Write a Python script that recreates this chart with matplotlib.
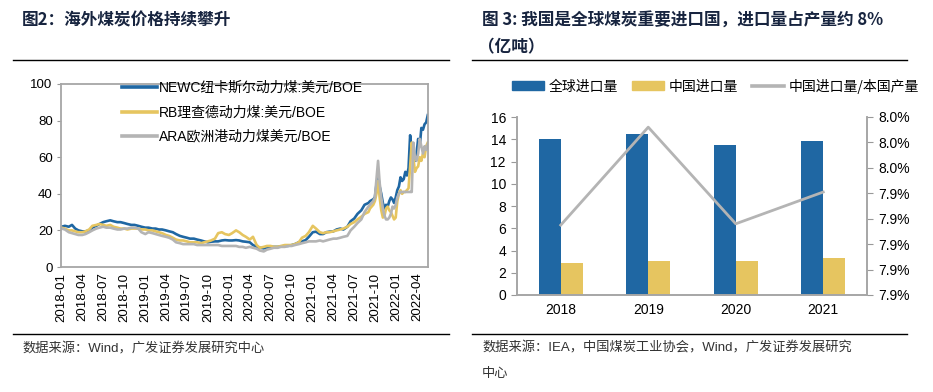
import numpy as np
import pandas as pd
import matplotlib
matplotlib.use("Agg")
import matplotlib.pyplot as plt
import matplotlib.dates as mdates
from matplotlib.lines import Line2D
from matplotlib.patches import Patch
from matplotlib.ticker import FuncFormatter, MultipleLocator

plt.rcParams['font.family'] = ['Liberation Sans', 'Noto Sans CJK SC', 'DejaVu Sans']

# ---------------- Left chart data ----------------
semi_dates = pd.date_range('2018-01-01', '2021-08-16', freq='SMS')
week_dates = pd.date_range('2021-09-01', periods=38, freq='7D')

newc_semi = [22, 22.5, 22, 23, 21, 20, 19.5, 19.5, 20, 21.5, 22.5, 23.5,
             24.5, 25, 25.5, 25, 24.5, 24.5, 24, 23.5, 23, 23, 22.5, 22,
             21.5, 21.5, 21, 21, 20.5, 20.5, 20, 19.5, 19, 18, 17, 16.5,
             16, 15.5, 15.5, 15, 14.5, 14, 13.5, 13.8, 14, 14, 14.5, 14.7,
             14.5, 14.5, 14.7, 14.5, 14, 13.8, 13.5, 12, 11, 10.5, 10.2, 10.5,
             11, 11, 11, 11.2, 11.5, 11.5, 12, 12.5, 13.5, 14, 14.7, 16.5,
             19, 19.3, 18, 18, 19, 19.3, 19.5, 20.5, 21, 20.5, 22, 25,
             26.5, 29, 31, 34]
newc_week = [35, 36, 36.5, 37, 38, 45, 50, 44, 40, 35, 32, 34, 33,
             36, 38, 37, 35, 38, 42, 44, 49, 47, 48, 52, 50, 54,
             72, 64, 60, 58, 62, 70, 66, 76, 75, 78, 79, 83]

rb_semi = [21.5, 21, 20, 20, 19.5, 19, 19, 19.5, 20.5, 22.5, 23, 23.5,
           23, 22.5, 23, 22, 21.5, 21, 21, 20.5, 21, 21, 21, 20.5,
           20.5, 20, 20, 19.5, 19, 18.5, 17.5, 17, 16, 15, 14.5, 14.5,
           14, 13.5, 13.5, 13.5, 13, 13.5, 14, 14.5, 15.5, 18.5, 19, 18,
           17.5, 18.5, 20, 19, 17.5, 16.5, 15, 16.5, 12, 10.5, 11, 11.5,
           11.5, 11, 11, 11.5, 12, 12, 12, 12.5, 13.5, 16, 17, 19,
           22.5, 21, 19, 18.5, 19, 19, 19.5, 20, 20.5, 21, 22, 23.5,
           24.5, 26, 27.5, 29]
rb_week = [30, 32, 33, 34, 36, 40, 47, 38, 31, 27, 28, 32, 33,
           31, 30, 28, 26, 27, 36, 40, 42, 40, 41, 41, 42, 43,
           55, 68, 60, 52, 54, 55, 60, 58, 62, 60, 66, 68]

ara_semi = [21, 20.5, 19, 18.5, 18, 17.5, 17.5, 18, 19, 20, 21, 21.5,
            22, 21.5, 21.5, 21, 20.5, 20.5, 21, 21, 21.5, 21.5, 21, 19,
            18, 19, 18.5, 18, 17.5, 17, 16.5, 16, 15, 13.5, 13, 12.5,
            12.5, 12.5, 12.5, 12, 12, 12, 12, 12, 12, 12, 11.5, 11.5,
            11.5, 11.5, 11.5, 11, 11, 10.5, 11, 10.5, 10, 9, 8.5, 9.5,
            10, 10.5, 10.5, 11, 11, 11.5, 11.5, 12, 12.5, 13, 13.5, 14,
            14, 14, 14.5, 14, 14.5, 15, 15.5, 15.5, 16, 16.5, 17, 20,
            22, 24, 26, 30]
ara_week = [33, 34, 35, 36, 38, 48, 58, 46, 38, 32, 28, 26, 26,
            27, 29, 33, 32, 34, 38, 40, 41, 41, 41, 41, 41, 41,
            41, 41, 68, 60, 58, 62, 70, 66, 62, 66, 64, 67]

series_names = ['NEWC纽卡斯尔动力煤:美元/BOE', 'RB理查德动力煤:美元/BOE', 'ARA欧洲港动力煤美元/BOE']
tick_dates = pd.date_range('2018-01-01', '2022-04-01', freq='QS')

# ---------------- Right chart data ----------------
years = ['2018', '2019', '2020', '2021']
global_imports = [14.0, 14.45, 13.5, 13.8]
china_imports = [2.85, 3.05, 3.1, 3.3]
import_ratio = [7.915, 7.992, 7.916, 7.941]
bar_names = ['全球进口量', '中国进口量', '中国进口量/本国产量']

BLUE = '#1f67a3'
YELLOW = '#e6c560'
GRAY = '#b4b4b4'
NAVY = '#17243f'
W, H = 933, 392

fig = plt.figure(figsize=(W / 100, H / 100), dpi=100)

def fx(x):
    return x / W

def fy(y):
    return 1 - y / H

def hline(x0, x1, y):
    fig.add_artist(Line2D([fx(x0), fx(x1)], [fy(y), fy(y)], transform=fig.transFigure,
                          color='black', lw=1.0))

cjk = ['Noto Sans CJK SC', 'Liberation Sans']
# titles
fig.text(fx(22), fy(20), '图2：海外煤炭价格持续攀升', fontsize=12, fontweight='bold',
         color=NAVY, family=cjk, va='center', ha='left')
fig.text(fx(482), fy(20), '图 3: 我国是全球煤炭重要进口国，进口量占产量约 8%', fontsize=12,
         fontweight='bold', color=NAVY, family=cjk, va='center', ha='left')
fig.text(fx(478), fy(47), '（亿吨）', fontsize=12, fontweight='bold', color=NAVY,
         family=cjk, va='center', ha='left')
hline(13, 449, 60)
hline(472, 907, 60)
hline(13, 449, 334)
hline(472, 907, 334)
fig.text(fx(22), fy(349), '数据来源：Wind，广发证券发展研究中心', fontsize=9.5, color='#333333',
         family=['Liberation Sans', 'Noto Sans CJK SC'], va='center', ha='left')
fig.text(fx(482), fy(348), '数据来源：IEA，中国煤炭工业协会，Wind，广发证券发展研究', fontsize=9.5,
         color='#333333', family=['Liberation Sans', 'Noto Sans CJK SC'], va='center', ha='left')
fig.text(fx(482), fy(374), '中心', fontsize=9.5, color='#333333',
         family=['Liberation Sans', 'Noto Sans CJK SC'], va='center', ha='left')

# ---------------- Left axes ----------------
ax1 = fig.add_axes([fx(61), fy(267), fx(428) - fx(61), fy(84) - fy(267)])
all_dates = list(semi_dates) + list(week_dates)
newc = newc_semi + newc_week
rb = rb_semi + rb_week
ara = ara_semi + ara_week
ax1.plot(all_dates, newc, color=BLUE, lw=1.9, label=series_names[0])
ax1.plot(all_dates, rb, color=YELLOW, lw=1.9, label=series_names[1])
ax1.plot(all_dates, ara, color=GRAY, lw=1.9, label=series_names[2])
ax1.set_ylim(0, 100)
ax1.set_yticks(range(0, 101, 20))
ax1.set_xlim(pd.Timestamp('2017-12-29'), pd.Timestamp('2022-05-19'))
ax1.set_xticks(tick_dates)
ax1.set_xticklabels([d.strftime('%Y-%m') for d in tick_dates], rotation=90)
ax1.tick_params(axis='x', length=0, pad=4, labelsize=9.5)
ax1.tick_params(axis='y', length=3, color='#999999', labelsize=9.5, pad=3)
for s in ax1.spines.values():
    s.set_color('#a6a6a6')
    s.set_linewidth(1.3)
leg1 = ax1.legend(loc='upper left', bbox_to_anchor=((122 - 61) / 367, 1 + 3 / 183),
                  frameon=False, fontsize=10, handlelength=2.5, handletextpad=0.15,
                  labelspacing=0.75, borderpad=0, borderaxespad=0,
                  prop={'family': ['Liberation Sans', 'Noto Sans CJK SC'], 'size': 10})
for l in leg1.get_lines():
    l.set_linewidth(2.6)

# ---------------- Right axes ----------------
ax2 = fig.add_axes([fx(517), fy(295), fx(867) - fx(517), fy(117) - fy(295)])
x = np.arange(len(years))
bw = 0.25
ax2.bar(x - bw / 2, global_imports, width=bw, color=BLUE, label=bar_names[0])
ax2.bar(x + bw / 2, china_imports, width=bw, color=YELLOW, label=bar_names[1])
ax2.set_xlim(-0.5, len(years) - 0.5)
ax2.set_ylim(0, 16)
ax2.yaxis.set_major_locator(MultipleLocator(2))
ax2.set_xticks(x)
ax2.set_xticklabels(years)
ax2.tick_params(axis='x', length=0, labelsize=10, pad=6)
ax2.tick_params(axis='y', length=4, color='#999999', labelsize=10, pad=4)
ax3 = ax2.twinx()
ax3.plot(x, import_ratio, color=GRAY, lw=2.0, label=bar_names[2])
ax3.set_ylim(7.86, 8.00)
ax3.set_yticks(np.linspace(7.86, 8.00, 8))
ax3.yaxis.set_major_formatter(FuncFormatter(lambda v, p: f'{v:.1f}%'))
ax3.tick_params(axis='y', length=4, color='#999999', labelsize=10, pad=4)
for a in (ax2, ax3):
    a.spines['top'].set_visible(False)
    for s in ('left', 'right', 'bottom'):
        a.spines[s].set_color('#a6a6a6')
        a.spines[s].set_linewidth(1.2)

handles = [Patch(color=BLUE), Patch(color=YELLOW), Line2D([0], [0], color=GRAY, lw=2.6)]
fig.legend(handles, bar_names, loc='center left', bbox_to_anchor=(fx(512), fy(86)),
           ncol=3, frameon=False, handlelength=2.3, handleheight=0.6, handletextpad=0.35,
           columnspacing=1.0, borderpad=0, borderaxespad=0,
           prop={'family': ['Noto Sans CJK SC', 'Liberation Sans'], 'size': 10})

fig.savefig('out.png', dpi=100)
